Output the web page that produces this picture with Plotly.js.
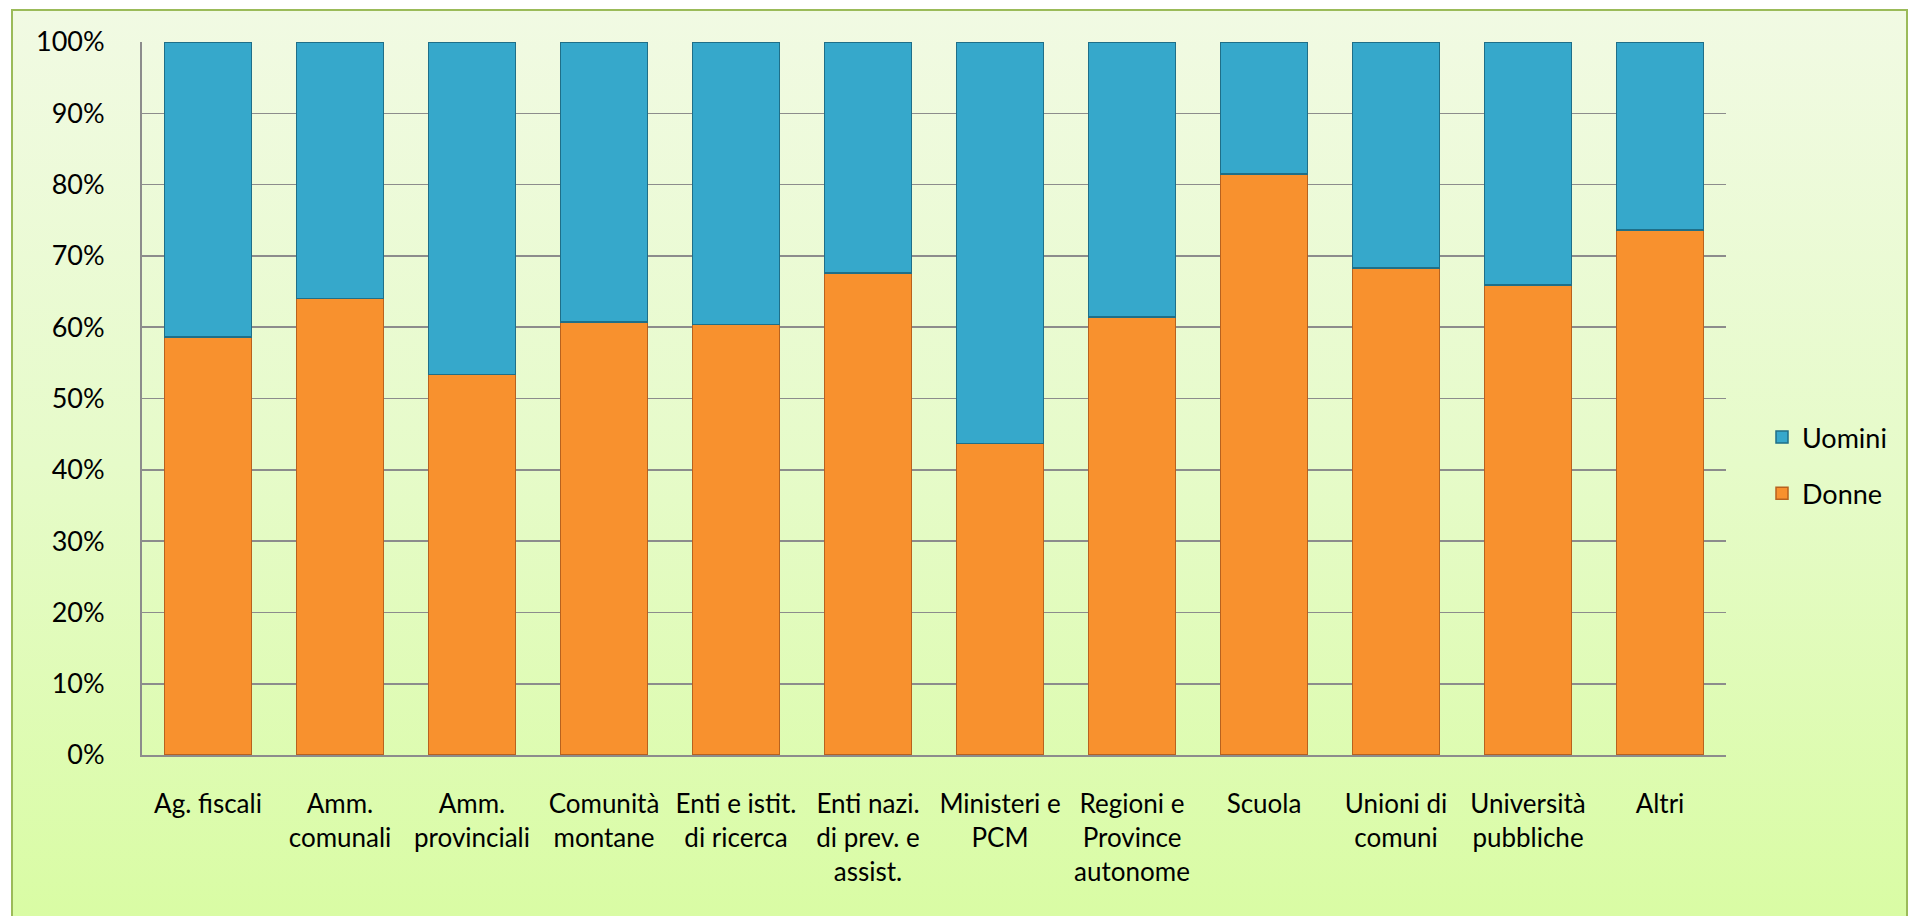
<!DOCTYPE html>
<html>
<head>
<meta charset="utf-8">
<script src="https://cdn.plot.ly/plotly-3.0.1.min.js"></script>
<style>
  html, body { margin: 0; padding: 0; background: #ffffff; }
  #frame {
    position: absolute; left: 11px; top: 9px; width: 1897px; height: 910px;
    border: 2px solid #9bbb59; box-sizing: border-box;
    background: linear-gradient(to bottom, #f1fae3 0%, #e6fbc9 50%, #d9fca4 100%);
  }
  #chart { position: absolute; left: 0; top: 0; width: 1919px; height: 916px; }
</style>
</head>
<body>
<div id="frame"></div>
<div id="chart"></div>
<script>
// Categories (plain names) and their displayed tick labels
const categories = [
  "Ag. fiscali", "Amm. comunali", "Amm. provinciali", "Comunità montane",
  "Enti e istit. di ricerca", "Enti nazi. di prev. e assist.", "Ministeri e PCM",
  "Regioni e Province autonome", "Scuola", "Unioni di comuni",
  "Università pubbliche", "Altri"
];
const tickLabels = [
  "Ag. fiscali", "Amm.<br>comunali", "Amm.<br>provinciali", "Comunità<br>montane",
  "Enti e istit.<br>di ricerca", "Enti nazi.<br>di prev. e<br>assist.", "Ministeri e<br>PCM",
  "Regioni e<br>Province<br>autonome", "Scuola", "Unioni di<br>comuni",
  "Università<br>pubbliche", "Altri"
];
// Share of women (%) per category
const donne = [58.6, 64.0, 53.4, 60.7, 60.4, 67.6, 43.7, 61.4, 81.5, 68.3, 65.9, 73.6];
// Share of men (%) per category
const uomini = [41.4, 36.0, 46.6, 39.3, 39.6, 32.4, 56.3, 38.6, 18.5, 31.7, 34.1, 26.4];
const yTickVals = [0, 10, 20, 30, 40, 50, 60, 70, 80, 90, 100];
const yTickText = ["0%", "10%", "20%", "30%", "40%", "50%", "60%", "70%", "80%", "90%", "100%"];

const FONT = "Lato, 'Open Sans', sans-serif";

const traces = [
  {
    type: "bar", name: "Donne", x: categories, y: donne, legendgroup: "d", legendrank: 2,
    marker: { color: "#f8912e", line: { color: "#b8621e", width: 1.5 } },
    hoverinfo: "skip"
  },
  {
    type: "bar", name: "Uomini", x: categories, y: uomini, legendgroup: "u", legendrank: 1,
    marker: { color: "#36a8cb", line: { color: "#1f6f88", width: 1.5 } },
    hoverinfo: "skip"
  }
];

const layout = {
  width: 1919, height: 916, autosize: false,
  paper_bgcolor: "rgba(0,0,0,0)", plot_bgcolor: "rgba(0,0,0,0)",
  margin: { l: 142, r: 193, t: 41.5, b: 161, pad: 0 },
  barmode: "stack", bargap: 0.34,
  font: { family: FONT, size: 26, color: "#000000" },
  showlegend: true,
  legend: {
    x: (1762 - 142) / (1919 - 142 - 193), xref: "paper",
    y: 0.406, yanchor: "middle",
    traceorder: "grouped", tracegroupgap: 18,
    font: { family: FONT, size: 27, color: "#000000" },
    bgcolor: "rgba(0,0,0,0)", itemwidth: 30
  },
  xaxis: {
    type: "category", tickvals: categories, ticktext: tickLabels,
    showgrid: false, showline: true, linecolor: "#8c8c8c", linewidth: 2,
    ticks: "", ticklabelstandoff: 25, tickangle: 0,
    tickfont: { family: FONT, size: 26, color: "#000000" },
    fixedrange: true
  },
  yaxis: {
    range: [0, 100], tickvals: yTickVals, ticktext: yTickText,
    showgrid: true, gridcolor: "#8c8c8c", gridwidth: 1.6,
    showline: true, linecolor: "#8c8c8c", linewidth: 2,
    zeroline: false, ticks: "", ticklabelstandoff: 30,
    tickfont: { family: FONT, size: 27, color: "#000000" },
    fixedrange: true
  }
};

Plotly.newPlot("chart", traces, layout, { displayModeBar: false, staticPlot: true });
</script>
</body>
</html>
